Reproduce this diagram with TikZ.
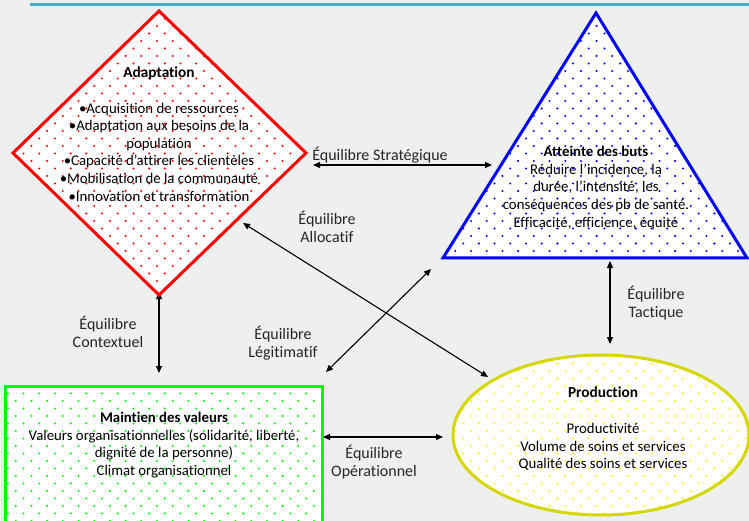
\documentclass[tikz,border=0pt]{standalone}
\usepackage{fontspec}
\setmainfont{Carlito}[Ligatures=NoCommon]
\usetikzlibrary{arrows.meta,patterns}
\pgfdeclarepatternformonly{dotgrid}{\pgfqpoint{-1.5pt}{-1.5pt}}{\pgfqpoint{9.5pt}{9.3pt}}{\pgfqpoint{15.7pt}{15pt}}{%
  \pgfpathcircle{\pgfqpoint{0pt}{0pt}}{1.15pt}%
  \pgfpathcircle{\pgfqpoint{7.85pt}{7.5pt}}{1.15pt}%
  \pgfusepath{fill}}
\definecolor{bgcol}{RGB}{237,240,238}
\definecolor{topbar}{RGB}{75,172,198}
\definecolor{ylwline}{RGB}{214,214,0}
\definecolor{ylwdot}{RGB}{250,250,0}
\definecolor{grn}{RGB}{0,250,0}
\tikzset{
  shapeline/.style={line width=3pt, line join=miter},
  biarrow/.style={{Triangle[length=7pt,width=6pt]}-{Triangle[length=7pt,width=6pt]}, line width=1.1pt, black},
  lbl/.style={font=\fontsize{16}{18.5}\selectfont, align=center, text=black!85, inner sep=0pt},
  body/.style={font=\fontsize{14.8}{17.6}\selectfont, align=center, text=black, inner sep=0pt},
  ttl/.style={font=\fontsize{15.3}{17.6}\selectfont\bfseries, text=black, inner sep=0pt}
}
\begin{document}
\begin{tikzpicture}[x=1pt,y=-1pt]
\useasboundingbox (0,0) rectangle (749,521);
\fill[bgcol] (0,0) rectangle (749,521);
\fill[topbar] (30,3) rectangle (749,6);

% connector end points
\coordinate (strL) at (313,165);
\coordinate (strR) at (492,165);
\coordinate (allA) at (243,223);
\coordinate (allB) at (488,377);
\coordinate (legA) at (326,372);
\coordinate (legB) at (431,269);
\coordinate (ctxA) at (159,292);
\coordinate (ctxB) at (159,373);
\coordinate (tacA) at (610,261);
\coordinate (tacB) at (610,344);
\coordinate (opA) at (323,437);
\coordinate (opB) at (443,437);

\draw[biarrow] (strL) -- (strR);
\draw[biarrow] (allA) -- (allB);
\draw[biarrow] (legA) -- (legB);
\draw[biarrow] (ctxA) -- (ctxB);
\draw[biarrow] (tacA) -- (tacB);
\draw[biarrow] (opA) -- (opB);

% shapes
\draw[shapeline, red, preaction={fill=white}, pattern=dotgrid, pattern color=red]
  (159,11) -- (306,153) -- (159,295) -- (13,153) -- cycle;
\draw[shapeline, blue, preaction={fill=white}, pattern=dotgrid, pattern color=blue]
  (596,13) -- (747,258) -- (443,258) -- cycle;
\draw[shapeline, grn, preaction={fill=white}, pattern=dotgrid, pattern color=grn]
  (5,386) rectangle (322,530);
\draw[shapeline, ylwline, preaction={fill=white}, pattern=dotgrid, pattern color=ylwdot]
  (601,435) ellipse [x radius=148pt, y radius=80pt];

% texts
\node[ttl] (adT) at (159,73) {Adaptation};
\node[body] (adB) at (159,152) {•Acquisition de ressources\\•Adaptation aux besoins de la\\population\\•Capacité d’attirer les clientèles\\•Mobilisation de la communauté\\•Innovation et transformation};
\node[body] (atB) at (596,188) {\textbf{Atteinte des buts}\\Réduire l’incidence, la\\durée, l’intensité, les\\conséquences des pb de santé.\\Efficacité, efficience, équité};
\node[body] (mvB) at (164,445) {\textbf{Maintien des valeurs}\\Valeurs organisationnelles (solidarité, liberté,\\dignité de la personne)\\Climat organisationnel};
\node[ttl] (prT) at (603,392) {Production};
\node[body] (prB) at (603,447) {Productivité\\Volume de soins et services\\Qualité des soins et services};

\node[lbl] (lStr) at (380,155) {Équilibre Stratégique};
\node[lbl] (lAll) at (327,227) {Équilibre\\Allocatif};
\node[lbl] (lLeg) at (283,343) {Équilibre\\Légitimatif};
\node[lbl] (lCtx) at (108,332) {Équilibre\\Contextuel};
\node[lbl] (lTac) at (656,303) {Équilibre\\Tactique};
\node[lbl] (lOp) at (374,462) {Équilibre\\Opérationnel};
\end{tikzpicture}
\end{document}
